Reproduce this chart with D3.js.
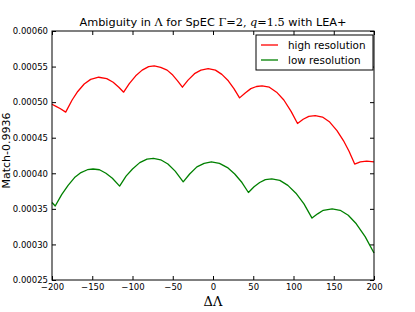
<!DOCTYPE html>
<meta charset="utf-8">
<script src="https://d3js.org/d3.v7.min.js"></script>
<style>
  body { margin: 0; background: #fff; }
  text { font-family: "DejaVu Sans", sans-serif; }
</style>
<div id="my_dataviz"></div>
<script>

// values (Match - 0.9936)
var highX = [-200, -195, -190, -183, -175, -168, -160, -152, -142, -132, -124, -117, -111,
  -104, -96, -88, -80, -73, -65, -57, -50, -44, -38,
  -31, -23, -15, -6, 3, 11, 19, 26, 33,
  40, 47, 54, 61, 70, 79, 88, 97, 105,
  112, 119, 127, 136, 145, 154, 162, 169, 176,
  183, 191, 200];
var highY = [0.000497, 0.000494, 0.000491, 0.000486, 0.000503, 0.000515, 0.0005255, 0.000532, 0.000535, 0.000533, 0.000528, 0.000521, 0.000514,
  0.000526, 0.000537, 0.000545, 0.000550, 0.000551, 0.000549, 0.000545, 0.000538, 0.000530, 0.000521,
  0.000531, 0.000540, 0.000545, 0.000547, 0.000545, 0.000539, 0.000530, 0.000519, 0.000506,
  0.000513, 0.000519, 0.000522, 0.000523, 0.000521, 0.000514, 0.000503, 0.000487, 0.000470,
  0.000476, 0.000480, 0.000481, 0.000479, 0.000472, 0.000460, 0.000446, 0.000431, 0.000413,
  0.000416, 0.000417, 0.000416];

var lowX = [-200, -196, -188, -180, -172, -164, -156, -149, -141, -133, -125, -116,
  -108, -100, -91, -82, -74, -65, -56, -47, -37,
  -29, -20, -11, -2, 8, 18, 27, 36, 44,
  51, 58, 65, 73, 83, 93, 103, 113, 123,
  130, 137, 148, 158, 168, 178, 189, 200];
var lowY = [0.000359, 0.000354, 0.000370, 0.000383, 0.000394, 0.000401, 0.000405, 0.000406, 0.000405, 0.000400, 0.000393, 0.000382,
  0.000396, 0.000406, 0.000415, 0.000420, 0.000421, 0.000419, 0.000413, 0.000403, 0.000388,
  0.000399, 0.000409, 0.000414, 0.000416, 0.000414, 0.000408, 0.000399, 0.000387, 0.000373,
  0.000381, 0.000387, 0.000391, 0.000392, 0.000390, 0.000383, 0.000372, 0.000357, 0.000337,
  0.000343, 0.000348, 0.000350, 0.000348, 0.000341, 0.000329, 0.000311, 0.000288];

var xTicks = [-200, -150, -100, -50, 0, 50, 100, 150, 200];
var yTicks = [0.00025, 0.00030, 0.00035, 0.00040, 0.00045, 0.00050, 0.00055, 0.00060];

var seriesNames = ["high resolution", "low resolution"];
var seriesColors = ["#ff0000", "#008000"];

var margin = {top: 31, right: 41, bottom: 32, left: 52},
    width = 415 - margin.left - margin.right,
    height = 312 - margin.top - margin.bottom;

var root = d3.select("#my_dataviz")
  .append("svg")
    .attr("width", 415)
    .attr("height", 312);

var svg = root.append("g")
    .attr("transform", "translate(" + margin.left + "," + margin.top + ")");

var x = d3.scaleLinear().domain([-200, 200]).range([0, width]);
var y = d3.scaleLinear().domain([0.00025, 0.00060]).range([height, 0]);

// axes, ticks pointing inward like matplotlib
function styleAxis(g) {
  g.select(".domain").remove();
  g.selectAll("line").attr("stroke", "#000");
  g.selectAll("text").attr("fill", "#000").style("font-family", "DejaVu Sans").style("font-size", "8.5px");
}

svg.append("g")
  .attr("transform", "translate(0," + height + ")")
  .call(d3.axisBottom(x).tickValues(xTicks).tickSize(-4).tickPadding(4))
  .call(styleAxis);

svg.append("g")
  .call(d3.axisTop(x).tickValues(xTicks).tickSize(-4).tickFormat(""))
  .call(styleAxis);

svg.append("g")
  .call(d3.axisLeft(y).tickValues(yTicks).tickSize(-4).tickPadding(4).tickFormat(d3.format(".5f")))
  .call(styleAxis);

svg.append("g")
  .attr("transform", "translate(" + width + ",0)")
  .call(d3.axisRight(y).tickValues(yTicks).tickSize(-4).tickFormat(""))
  .call(styleAxis);

var line = d3.line()
  .x(function(d) { return x(d[0]); })
  .y(function(d) { return y(d[1]); });

var data = [d3.zip(highX, highY), d3.zip(lowX, lowY)];

svg.selectAll(".series")
  .data(data)
  .enter().append("path")
    .attr("class", "series")
    .attr("fill", "none")
    .attr("stroke", function(d, i) { return seriesColors[i]; })
    .attr("stroke-width", 1.3)
    .attr("stroke-linejoin", "round")
    .attr("d", line);

// frame
svg.append("rect")
  .attr("width", width)
  .attr("height", height)
  .attr("fill", "none")
  .attr("stroke", "#000")
  .attr("stroke-width", 1);

// legend
var legend = svg.append("g").attr("transform", "translate(" + (width - 118) + ",4)");
legend.append("rect")
  .attr("width", 117)
  .attr("height", 35)
  .attr("fill", "#fff")
  .attr("stroke", "#000")
  .attr("stroke-width", 1);
seriesNames.forEach(function(name, i) {
  var ly = 10 + i * 15;
  legend.append("line")
    .attr("x1", 5).attr("x2", 22)
    .attr("y1", ly).attr("y2", ly)
    .attr("stroke", seriesColors[i])
    .attr("stroke-width", 1.3);
  legend.append("text")
    .attr("x", 32).attr("y", ly + 4)
    .style("font-size", "10.4px")
    .text(name);
});

// title
var title = root.append("text")
  .attr("x", margin.left + width / 2)
  .attr("y", 26)
  .attr("text-anchor", "middle")
  .style("font-size", "11.3px");
title.append("tspan").text("Ambiguity in ");
title.append("tspan").style("font-family", "DejaVu Serif").text("Λ");
title.append("tspan").text(" for SpEC ");
title.append("tspan").style("font-family", "DejaVu Serif").text("Γ=2");
title.append("tspan").style("font-family", "DejaVu Serif").text(", ");
title.append("tspan").style("font-family", "DejaVu Serif").style("font-style", "italic").text("q");
title.append("tspan").style("font-family", "DejaVu Serif").text("=1.5");
title.append("tspan").text(" with LEA+");

// axis labels
root.append("text")
  .attr("x", margin.left + width / 2)
  .attr("y", 306)
  .attr("text-anchor", "middle")
  .style("font-family", "DejaVu Serif")
  .style("font-size", "13px")
  .text("ΔΛ");

root.append("text")
  .attr("transform", "translate(10," + (margin.top + height / 2 - 5) + ") rotate(-90)")
  .attr("text-anchor", "middle")
  .style("font-size", "11px")
  .text("Match-0.9936");

</script>
